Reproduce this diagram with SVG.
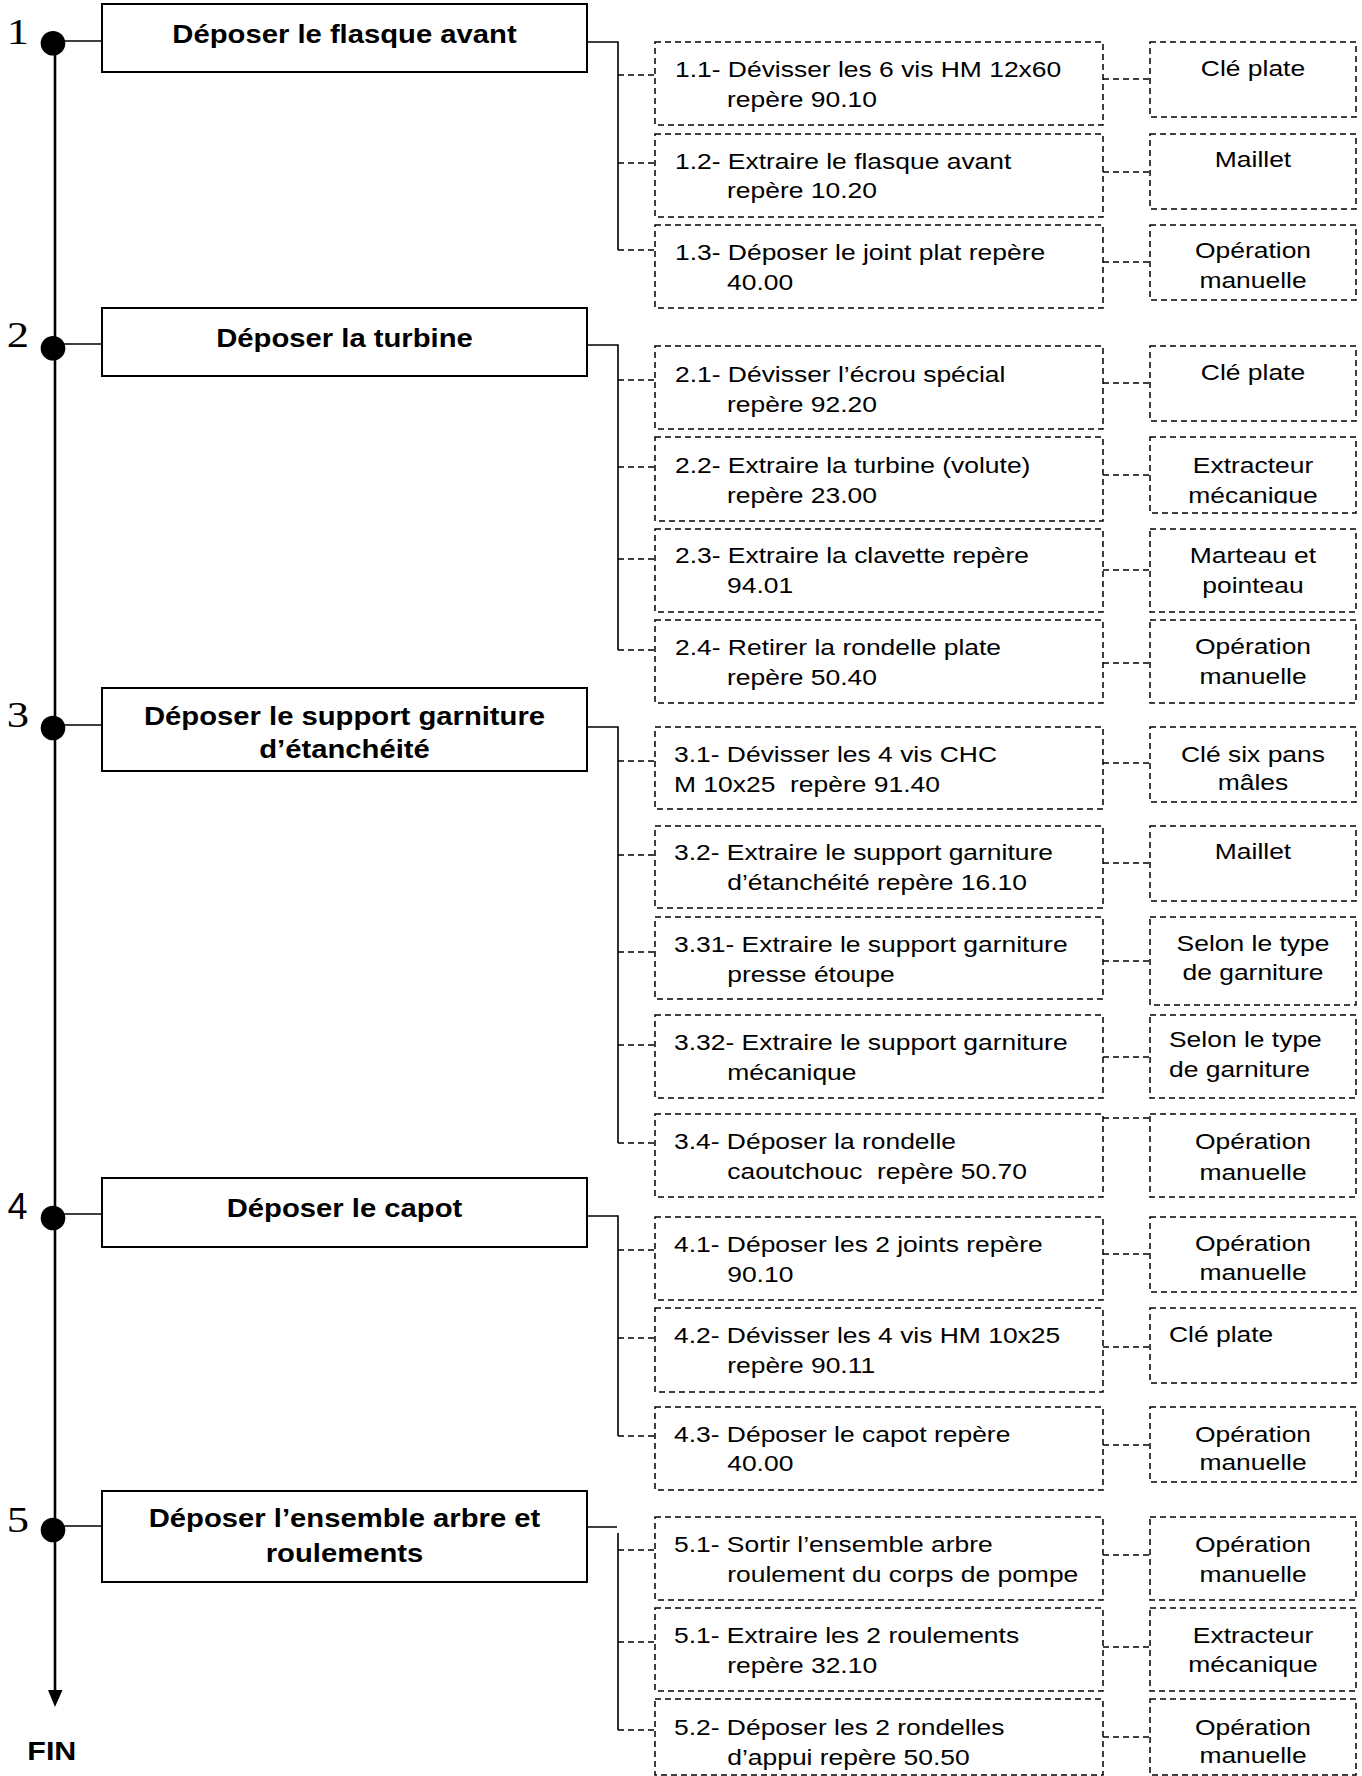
<svg xmlns="http://www.w3.org/2000/svg" width="1362" height="1776" viewBox="0 0 1362 1776">
<style>
.bg{fill:#fff}
.box{fill:#fff;stroke:#000;stroke-width:2}
.dbox{fill:#fff;stroke:#000;stroke-width:1.5;stroke-dasharray:6 4}
.dl{fill:none;stroke:#000;stroke-width:1.5;stroke-dasharray:6 4}
.ln{fill:none;stroke:#000;stroke-width:1.6}
.main{fill:none;stroke:#000;stroke-width:2.6}
.t{font-family:"Liberation Sans",Arial,sans-serif;font-size:22.6px;fill:#000}
.tb{font-family:"Liberation Sans",Arial,sans-serif;font-size:25px;font-weight:bold;fill:#000}
.num{font-family:"Liberation Serif","Times New Roman",serif;font-size:36px;fill:#000}
.nums{font-family:"Liberation Sans",Arial,sans-serif;font-size:36px;fill:#000}
.m{text-anchor:middle}
</style>
<defs>
<clipPath id="clipExt"><rect x="1150" y="437" width="206" height="66.5"/></clipPath>
</defs>
<rect class="bg" x="0" y="0" width="1362" height="1776"/>

<g id="connectors">
<path class="main" d="M55 43 V1691"/>
<polygon points="48,1690 62.5,1690 55,1707" fill="#000"/>
<path class="ln" d="M55 41 H102 M55 344 H102 M55 725 H102 M55 1214 H102 M55 1526 H102"/>
<path class="ln" d="M587 42 H618 V250 M587 345 H618 V650 M587 727 H618 V1143 M587 1216 H618 V1436 M587 1527 H617 M618 1533 V1730"/>
<path class="dl" d="M618 75 H655 M618 163 H655 M618 250 H655 M618 380 H655 M618 467 H655 M618 559 H655 M618 650 H655 M618 761 H655 M618 855 H655 M618 952 H655 M618 1045 H655 M618 1143 H655 M618 1250 H655 M618 1338 H655 M618 1436 H655 M618 1550 H655 M618 1642 H655 M618 1730 H655"/>
<path class="dl" d="M1103 79 H1150 M1103 172 H1150 M1103 262 H1150 M1103 383 H1150 M1103 475 H1150 M1103 570 H1150 M1103 663 H1150 M1103 763 H1150 M1103 863 H1150 M1103 961 H1150 M1103 1057 H1150 M1103 1118 H1150 M1103 1254 H1150 M1103 1347 H1150 M1103 1445 H1150 M1103 1555 H1150 M1103 1647 H1150 M1103 1737 H1150"/>
</g>

<g id="step1">
<circle cx="53" cy="43.3" r="12.3" fill="#000"/>
<text class="num m" transform="translate(18 44) scale(1.24 1)">1</text>
<rect class="box" x="102" y="4" width="485" height="68"/>
<text class="tb m" transform="translate(344.5 43) scale(1.17 1)">Déposer le flasque avant</text>
</g>
<g id="step2">
<circle cx="53" cy="348.3" r="12.3" fill="#000"/>
<text class="num m" transform="translate(18 347) scale(1.24 1)">2</text>
<rect class="box" x="102" y="308" width="485" height="68"/>
<text class="tb m" transform="translate(344.5 346.7) scale(1.17 1)">Déposer la turbine</text>
</g>
<g id="step3">
<circle cx="53" cy="728" r="12.3" fill="#000"/>
<text class="num m" transform="translate(18 727) scale(1.24 1)">3</text>
<rect class="box" x="102" y="688" width="485" height="83"/>
<text class="tb m" transform="translate(344.5 725) scale(1.17 1)"><tspan x="0" y="0">Déposer le support garniture</tspan><tspan x="0" y="33.3">d’étanchéité</tspan></text>
</g>
<g id="step4">
<circle cx="53" cy="1218" r="12.3" fill="#000"/>
<text class="nums m" x="17.5" y="1219">4</text>
<rect class="box" x="102" y="1178" width="485" height="69"/>
<text class="tb m" transform="translate(344.5 1217.3) scale(1.17 1)">Déposer le capot</text>
</g>
<g id="step5">
<circle cx="53" cy="1530" r="12.3" fill="#000"/>
<text class="num m" transform="translate(18 1532) scale(1.24 1)">5</text>
<rect class="box" x="102" y="1491" width="485" height="91"/>
<text class="tb m" transform="translate(344.5 1527.3) scale(1.17 1)"><tspan x="0" y="0">Déposer l’ensemble arbre et</tspan><tspan x="0" y="34.4">roulements</tspan></text>
</g>
<g id="fin">
<text class="tb m" transform="translate(51.8 1760) scale(1.17 1)" style="font-size:26px">FIN</text>
</g>

<g id="op1-1"><rect class="dbox" x="655" y="42" width="448" height="83"/>
<text class="t" transform="translate(675 77) scale(1.17 1)"><tspan x="0" y="0">1.1- Dévisser les 6 vis HM 12x60</tspan><tspan x="44.5" y="30">repère 90.10</tspan></text></g>
<g id="op1-2"><rect class="dbox" x="655" y="134" width="448" height="83"/>
<text class="t" transform="translate(675 168.5) scale(1.17 1)"><tspan x="0" y="0">1.2- Extraire le flasque avant</tspan><tspan x="44.5" y="30">repère 10.20</tspan></text></g>
<g id="op1-3"><rect class="dbox" x="655" y="225" width="448" height="83"/>
<text class="t" transform="translate(675 260) scale(1.17 1)"><tspan x="0" y="0">1.3- Déposer le joint plat repère</tspan><tspan x="44.5" y="30">40.00</tspan></text></g>
<g id="op2-1"><rect class="dbox" x="655" y="346" width="448" height="83"/>
<text class="t" transform="translate(675 381.7) scale(1.17 1)"><tspan x="0" y="0">2.1- Dévisser l’écrou spécial</tspan><tspan x="44.5" y="30">repère 92.20</tspan></text></g>
<g id="op2-2"><rect class="dbox" x="655" y="437" width="448" height="84"/>
<text class="t" transform="translate(675 473.3) scale(1.17 1)"><tspan x="0" y="0">2.2- Extraire la turbine (volute)</tspan><tspan x="44.5" y="30">repère 23.00</tspan></text></g>
<g id="op2-3"><rect class="dbox" x="655" y="529" width="448" height="83"/>
<text class="t" transform="translate(675 563.3) scale(1.17 1)"><tspan x="0" y="0">2.3- Extraire la clavette repère</tspan><tspan x="44.5" y="30">94.01</tspan></text></g>
<g id="op2-4"><rect class="dbox" x="655" y="620" width="448" height="83"/>
<text class="t" transform="translate(675 655) scale(1.17 1)"><tspan x="0" y="0">2.4- Retirer la rondelle plate</tspan><tspan x="44.5" y="30">repère 50.40</tspan></text></g>
<g id="op3-1"><rect class="dbox" x="655" y="727" width="448" height="82"/>
<text class="t" xml:space="preserve" transform="translate(674 761.7) scale(1.17 1)"><tspan x="0" y="0">3.1- Dévisser les 4 vis CHC</tspan><tspan x="0" y="30">M 10x25  repère 91.40</tspan></text></g>
<g id="op3-2"><rect class="dbox" x="655" y="826" width="448" height="82"/>
<text class="t" transform="translate(674 860) scale(1.17 1)"><tspan x="0" y="0">3.2- Extraire le support garniture</tspan><tspan x="45.5" y="30">d’étanchéité repère 16.10</tspan></text></g>
<g id="op3-31"><rect class="dbox" x="655" y="917" width="448" height="82"/>
<text class="t" transform="translate(674 951.7) scale(1.17 1)"><tspan x="0" y="0">3.31- Extraire le support garniture</tspan><tspan x="45.5" y="30">presse étoupe</tspan></text></g>
<g id="op3-32"><rect class="dbox" x="655" y="1015" width="448" height="83"/>
<text class="t" transform="translate(674 1050) scale(1.17 1)"><tspan x="0" y="0">3.32- Extraire le support garniture</tspan><tspan x="45.5" y="30">mécanique</tspan></text></g>
<g id="op3-4"><rect class="dbox" x="655" y="1114" width="448" height="83"/>
<text class="t" xml:space="preserve" transform="translate(674 1149.3) scale(1.17 1)"><tspan x="0" y="0">3.4- Déposer la rondelle</tspan><tspan x="45.5" y="30">caoutchouc  repère 50.70</tspan></text></g>
<g id="op4-1"><rect class="dbox" x="655" y="1217" width="448" height="83"/>
<text class="t" transform="translate(674 1251.7) scale(1.17 1)"><tspan x="0" y="0">4.1- Déposer les 2 joints repère</tspan><tspan x="45.5" y="30">90.10</tspan></text></g>
<g id="op4-2"><rect class="dbox" x="655" y="1308" width="448" height="84"/>
<text class="t" transform="translate(674 1342.7) scale(1.17 1)"><tspan x="0" y="0">4.2- Dévisser les 4 vis HM 10x25</tspan><tspan x="45.5" y="30">repère 90.11</tspan></text></g>
<g id="op4-3"><rect class="dbox" x="655" y="1407" width="448" height="83"/>
<text class="t" transform="translate(674 1441.7) scale(1.17 1)"><tspan x="0" y="0">4.3- Déposer le capot repère</tspan><tspan x="45.5" y="29.3">40.00</tspan></text></g>
<g id="op5-1a"><rect class="dbox" x="655" y="1517" width="448" height="83"/>
<text class="t" transform="translate(674 1551.7) scale(1.17 1)"><tspan x="0" y="0">5.1- Sortir l’ensemble arbre</tspan><tspan x="45.5" y="30">roulement du corps de pompe</tspan></text></g>
<g id="op5-1b"><rect class="dbox" x="655" y="1608" width="448" height="83"/>
<text class="t" transform="translate(674 1642.7) scale(1.17 1)"><tspan x="0" y="0">5.1- Extraire les 2 roulements</tspan><tspan x="45.5" y="30">repère 32.10</tspan></text></g>
<g id="op5-2"><rect class="dbox" x="655" y="1699" width="448" height="76"/>
<text class="t" transform="translate(674 1735) scale(1.17 1)"><tspan x="0" y="0">5.2- Déposer les 2 rondelles</tspan><tspan x="45.5" y="30">d’appui repère 50.50</tspan></text></g>

<g id="tool1-1"><rect class="dbox" x="1150" y="42" width="206" height="75"/>
<text class="t m" transform="translate(1253 76) scale(1.17 1)">Clé plate</text></g>
<g id="tool1-2"><rect class="dbox" x="1150" y="134" width="206" height="75"/>
<text class="t m" transform="translate(1253 167.3) scale(1.17 1)">Maillet</text></g>
<g id="tool1-3"><rect class="dbox" x="1150" y="225" width="206" height="75"/>
<text class="t m" transform="translate(1253 258.3) scale(1.17 1)"><tspan x="0" y="0">Opération</tspan><tspan x="0" y="30">manuelle</tspan></text></g>
<g id="tool2-1"><rect class="dbox" x="1150" y="346" width="206" height="75"/>
<text class="t m" transform="translate(1253 380) scale(1.17 1)">Clé plate</text></g>
<g id="tool2-2"><rect class="dbox" x="1150" y="437" width="206" height="76"/>
<g clip-path="url(#clipExt)"><text class="t m" transform="translate(1253 473) scale(1.17 1)"><tspan x="0" y="0">Extracteur</tspan><tspan x="0" y="30">mécanique</tspan></text></g></g>
<g id="tool2-3"><rect class="dbox" x="1150" y="529" width="206" height="83"/>
<text class="t m" transform="translate(1253 563.3) scale(1.17 1)"><tspan x="0" y="0">Marteau et</tspan><tspan x="0" y="30">pointeau</tspan></text></g>
<g id="tool2-4"><rect class="dbox" x="1150" y="620" width="206" height="83"/>
<text class="t m" transform="translate(1253 654) scale(1.17 1)"><tspan x="0" y="0">Opération</tspan><tspan x="0" y="30">manuelle</tspan></text></g>
<g id="tool3-1"><rect class="dbox" x="1150" y="727" width="206" height="75"/>
<text class="t m" transform="translate(1253 761.5) scale(1.17 1)"><tspan x="0" y="0">Clé six pans</tspan><tspan x="0" y="29">mâles</tspan></text></g>
<g id="tool3-2"><rect class="dbox" x="1150" y="826" width="206" height="75"/>
<text class="t m" transform="translate(1253 859.3) scale(1.17 1)">Maillet</text></g>
<g id="tool3-31"><rect class="dbox" x="1150" y="917" width="206" height="88"/>
<text class="t m" transform="translate(1253 950.7) scale(1.17 1)"><tspan x="0" y="0">Selon le type</tspan><tspan x="0" y="29.3">de garniture</tspan></text></g>
<g id="tool3-32"><rect class="dbox" x="1150" y="1015" width="206" height="83"/>
<text class="t" transform="translate(1169 1046.7) scale(1.17 1)"><tspan x="0" y="0">Selon le type</tspan><tspan x="0" y="30">de garniture</tspan></text></g>
<g id="tool3-4"><rect class="dbox" x="1150" y="1114" width="206" height="83"/>
<text class="t m" transform="translate(1253 1149.3) scale(1.17 1)"><tspan x="0" y="0">Opération</tspan><tspan x="0" y="30.7">manuelle</tspan></text></g>
<g id="tool4-1"><rect class="dbox" x="1150" y="1217" width="206" height="75"/>
<text class="t m" transform="translate(1253 1250.7) scale(1.17 1)"><tspan x="0" y="0">Opération</tspan><tspan x="0" y="29.3">manuelle</tspan></text></g>
<g id="tool4-2"><rect class="dbox" x="1150" y="1308" width="206" height="75"/>
<text class="t" transform="translate(1169 1341.7) scale(1.17 1)">Clé plate</text></g>
<g id="tool4-3"><rect class="dbox" x="1150" y="1407" width="206" height="75"/>
<text class="t m" transform="translate(1253 1441.7) scale(1.17 1)"><tspan x="0" y="0">Opération</tspan><tspan x="0" y="28.3">manuelle</tspan></text></g>
<g id="tool5-1a"><rect class="dbox" x="1150" y="1517" width="206" height="83"/>
<text class="t m" transform="translate(1253 1551.7) scale(1.17 1)"><tspan x="0" y="0">Opération</tspan><tspan x="0" y="30">manuelle</tspan></text></g>
<g id="tool5-1b"><rect class="dbox" x="1150" y="1608" width="206" height="83"/>
<text class="t m" transform="translate(1253 1642.7) scale(1.17 1)"><tspan x="0" y="0">Extracteur</tspan><tspan x="0" y="29">mécanique</tspan></text></g>
<g id="tool5-2"><rect class="dbox" x="1150" y="1699" width="206" height="76"/>
<text class="t m" transform="translate(1253 1735) scale(1.17 1)"><tspan x="0" y="0">Opération</tspan><tspan x="0" y="28.3">manuelle</tspan></text></g>
</svg>
